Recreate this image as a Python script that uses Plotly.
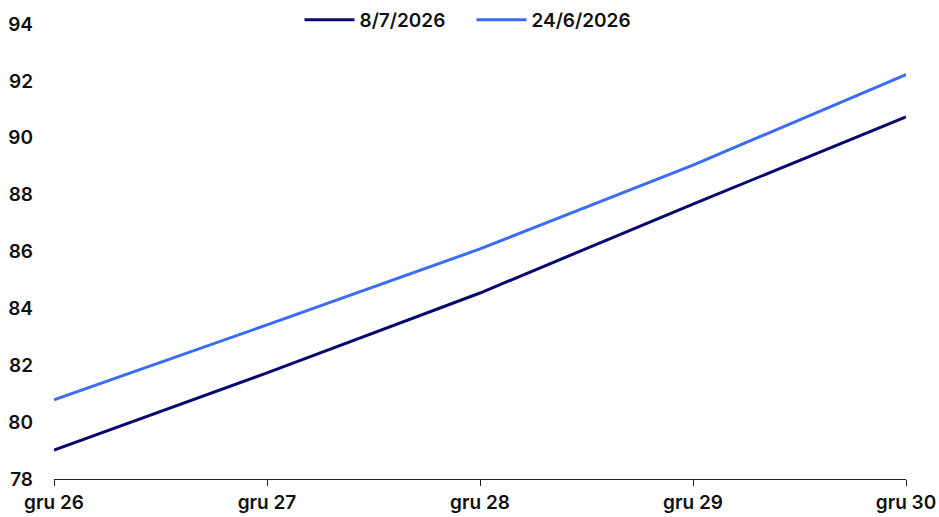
import plotly.graph_objects as go

categories = ["gru 26", "gru 27", "gru 28", "gru 29", "gru 30"]
series_0807 = [79.02, 81.73, 84.54, 87.67, 90.73]
series_2406 = [80.78, 83.42, 86.09, 89.04, 92.22]
y_ticks = [78, 80, 82, 84, 86, 88, 90, 92, 94]

fig = go.Figure()
fig.add_trace(go.Scatter(x=categories, y=series_0807, mode="lines", name="8/7/2026",
                         line=dict(color="#08086f", width=3)))
fig.add_trace(go.Scatter(x=categories, y=series_2406, mode="lines", name="24/6/2026",
                         line=dict(color="#3a6cf6", width=3)))

fig.update_layout(
    width=939, height=517,
    margin=dict(l=54, r=33, t=24, b=38, autoexpand=False),
    plot_bgcolor="white", paper_bgcolor="white",
    font=dict(family="Inter", size=19, color="#111111", weight=600),
    showlegend=True,
    legend=dict(orientation="h", x=0.49, xanchor="center", y=1.009, yanchor="middle",
                font=dict(size=19), bgcolor="rgba(0,0,0,0)", itemwidth=50,
                entrywidth=107),
    xaxis=dict(type="category", range=[0, 4], showgrid=False, showline=True,
               linecolor="#222222", linewidth=1, ticks="outside", ticklen=6,
               tickcolor="#222222", zeroline=False),
    yaxis=dict(range=[78, 94], tickvals=y_ticks, showgrid=False, showline=False,
               zeroline=False, ticks="", ticklabelstandoff=20),
)

fig.write_html(
    "out.html",
    config={"displayModeBar": False},
    post_script="document.body.style.margin='0';document.body.style.overflow='hidden';",
)
